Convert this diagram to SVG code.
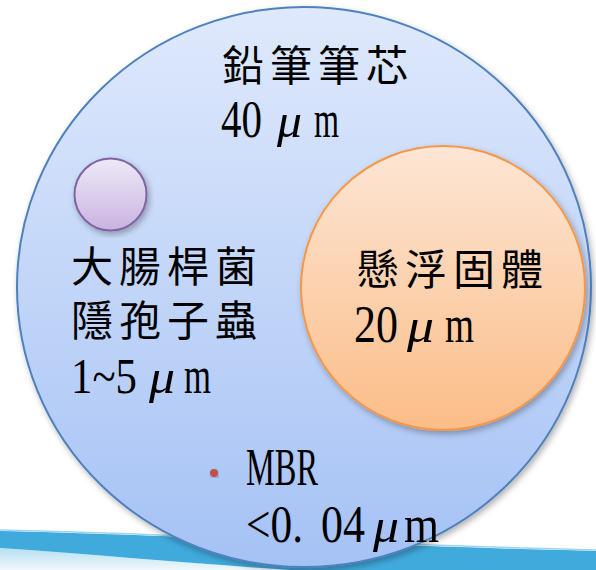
<svg xmlns="http://www.w3.org/2000/svg" width="596" height="570" viewBox="0 0 596 570">
<defs>
  <linearGradient id="gBlue" x1="0" y1="0" x2="0" y2="1">
    <stop offset="0" stop-color="#dfe9fc"/>
    <stop offset="1" stop-color="#a5c2f5"/>
  </linearGradient>
  <linearGradient id="gOrange" x1="0" y1="0" x2="0" y2="1">
    <stop offset="0" stop-color="#fde6d5"/>
    <stop offset="1" stop-color="#fbbd88"/>
  </linearGradient>
  <linearGradient id="gPurple" x1="0" y1="0" x2="0" y2="1">
    <stop offset="0" stop-color="#eee9f7"/>
    <stop offset="1" stop-color="#c9b3e1"/>
  </linearGradient>
  <linearGradient id="gLight" x1="0" y1="0" x2="0" y2="1">
    <stop offset="0" stop-color="#b7dff2"/>
    <stop offset="1" stop-color="#f0f8fc"/>
  </linearGradient>
  <filter id="shadow" x="-10%" y="-10%" width="120%" height="120%">
    <feDropShadow dx="2" dy="3" stdDeviation="3" flood-color="#000" flood-opacity="0.3"/>
  </filter>
  <style>
    .cjk { font-family: "Noto Sans CJK TC", "Noto Sans CJK SC", sans-serif; font-size: 42px; letter-spacing: 6px; fill: #000; }
    .num { font-family: "Liberation Serif", serif; font-size: 52px; fill: #000; }
    .mu { font-style: italic; font-size: 48px; }
  </style>
</defs>
<rect width="596" height="570" fill="#ffffff"/>
<g id="background">
  <path d="M0,548 C100,555 200,564 290,570 L0,570 Z" fill="url(#gLight)"/>
  <path d="M0,531 C150,534 350,545 596,551 L596,570 L290,570 C200,564 100,555 0,548 Z" fill="#41aadd"/>
  <path d="M0,530 C150,533 350,544 596,550" fill="none" stroke="#9ed4ee" stroke-width="1.5"/>
</g>
<g id="connectors"/>
<g id="pencil">
  <ellipse cx="304" cy="287" rx="287" ry="280" fill="url(#gBlue)" stroke="#4f81bd" stroke-width="2" filter="url(#shadow)"/>
  <text class="cjk" x="222" y="81">鉛筆筆芯</text>
  <text class="num" y="137"><tspan x="221" textLength="41" lengthAdjust="spacingAndGlyphs">40</tspan><tspan class="mu" x="277" textLength="25" lengthAdjust="spacingAndGlyphs">μ</tspan><tspan x="314" textLength="25" lengthAdjust="spacingAndGlyphs">m</tspan></text>
</g>
<g id="ecoli">
  <circle cx="110.5" cy="194.5" r="36" fill="url(#gPurple)" stroke="#8064a2" stroke-width="2" filter="url(#shadow)"/>
  <text class="cjk"><tspan x="71" y="282">大腸桿菌</tspan><tspan x="71" y="336">隱孢子蟲</tspan></text>
  <text class="num" y="393"><tspan x="71" font-size="50" textLength="66" lengthAdjust="spacingAndGlyphs">1~5</tspan><tspan class="mu" x="149" textLength="26" lengthAdjust="spacingAndGlyphs">μ</tspan><tspan x="184" textLength="27" lengthAdjust="spacingAndGlyphs">m</tspan></text>
</g>
<g id="ss">
  <circle cx="443" cy="288" r="142" fill="url(#gOrange)" stroke="#f79646" stroke-width="2" filter="url(#shadow)"/>
  <text class="cjk" x="357" y="285">懸浮固體</text>
  <text class="num" y="342"><tspan x="354" textLength="44" lengthAdjust="spacingAndGlyphs">20</tspan><tspan class="mu" x="407" textLength="27" lengthAdjust="spacingAndGlyphs">μ</tspan><tspan x="445" textLength="29" lengthAdjust="spacingAndGlyphs">m</tspan></text>
</g>
<g id="mbr">
  <circle cx="214" cy="473" r="4" fill="#c0504d" filter="url(#shadow)"/>
  <text class="num" x="246" y="485" textLength="72" lengthAdjust="spacingAndGlyphs">MBR</text>
  <text class="num" y="542"><tspan x="246" textLength="57" lengthAdjust="spacingAndGlyphs">&lt;0.</tspan><tspan x="321" textLength="44" lengthAdjust="spacingAndGlyphs">04</tspan><tspan class="mu" x="373" textLength="26" lengthAdjust="spacingAndGlyphs">μ</tspan><tspan x="404" textLength="35" lengthAdjust="spacingAndGlyphs">m</tspan></text>
</g>
</svg>
